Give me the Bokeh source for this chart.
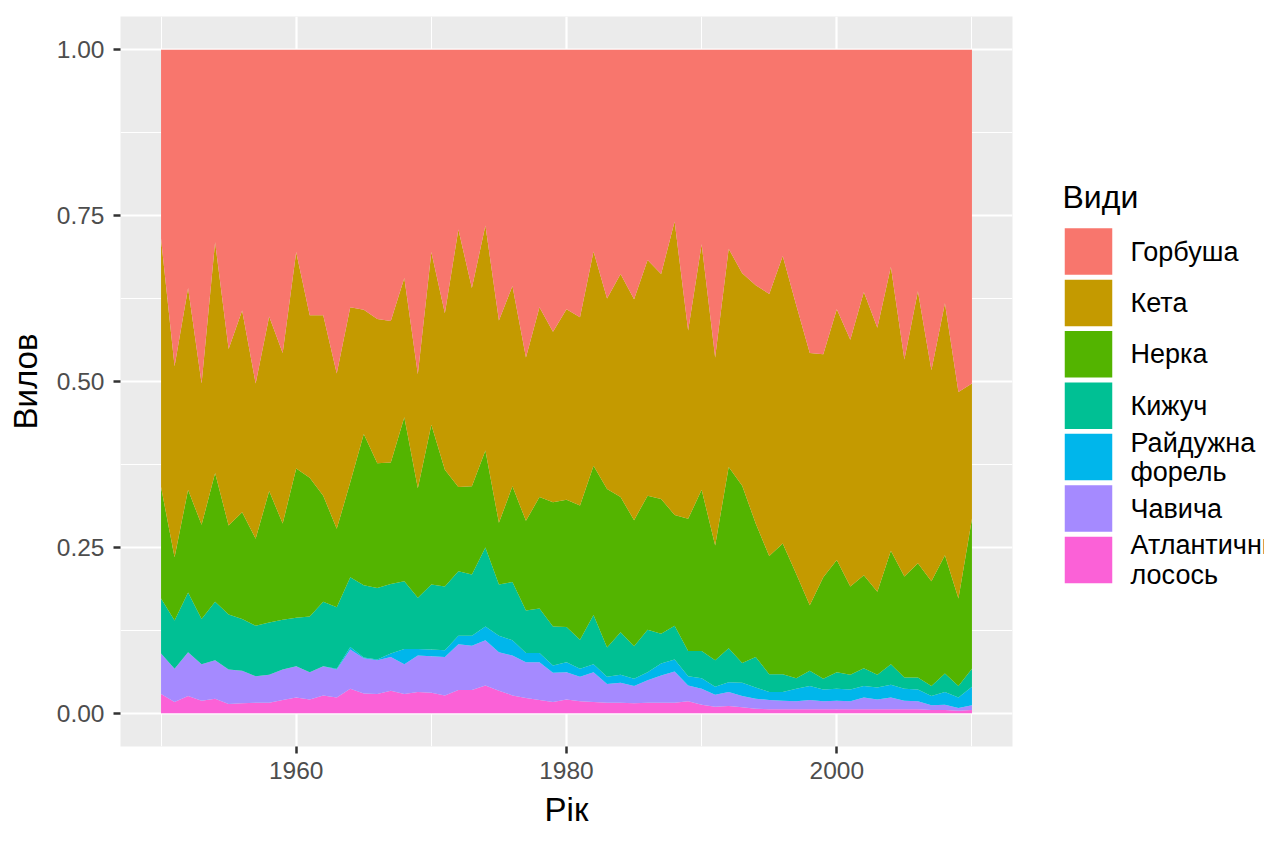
import numpy as np
from bokeh.plotting import figure
from bokeh.layouts import row
from bokeh.models import ColumnDataSource, FixedTicker, Range1d
from bokeh.core.properties import value
from bokeh.embed import file_html
from bokeh.resources import INLINE

years = list(range(1950, 2011))

# shares of catch per species (bottom of stack first)
atlantic = [.029,.017,.026,.019,.022,.014,.015,.016,.016,.020,.024,.021,.027,.024,.037,.030,.029,.034,.029,.032,.031,
            .027,.035,.035,.042,.034,.027,.023,.020,.017,.021,.018,.017,.016,.016,.015,.016,.016,.016,.018,.013,
            .010,.011,.009,.007,.006,.006,.006,.006,.006,.006,.006,.006,.006,.006,.006,.006,.005,.005,.004,.005]
chinook = [.061,.050,.066,.055,.058,.052,.049,.040,.042,.046,.047,.041,.044,.042,.059,.053,.051,.051,.045,.055,.055,
           .058,.069,.067,.068,.058,.060,.054,.057,.044,.041,.037,.045,.028,.030,.026,.034,.041,.047,.024,.024,
           .018,.021,.017,.015,.014,.013,.012,.014,.012,.013,.012,.018,.015,.018,.013,.012,.007,.008,.004,.007]
rainbow = [0,0,0,0,0,0,0,0,0,0,0,0,0,.001,.004,.001,.001,.005,.023,.010,.010,
           .010,.013,.015,.021,.025,.023,.014,.014,.011,.015,.012,.012,.011,.012,.011,.012,.018,.018,.014,.016,
           .012,.015,.020,.017,.012,.013,.019,.021,.018,.018,.018,.017,.018,.019,.018,.018,.014,.019,.016,.028]
coho = [.083,.073,.090,.068,.088,.083,.078,.076,.079,.075,.073,.084,.097,.093,.105,.109,.108,.105,.102,.077,.098,
        .096,.097,.092,.119,.077,.088,.064,.067,.059,.053,.044,.074,.044,.064,.049,.064,.045,.051,.038,.041,
        .040,.051,.030,.046,.027,.027,.016,.023,.016,.025,.022,.027,.019,.031,.017,.018,.015,.028,.017,.027]
sockeye = [.168,.095,.155,.142,.194,.134,.161,.131,.198,.145,.225,.209,.160,.118,.143,.228,.188,.183,.247,.165,.241,
           .176,.127,.133,.146,.093,.144,.135,.168,.187,.192,.202,.225,.239,.204,.190,.202,.203,.167,.199,.243,
           .173,.273,.267,.201,.178,.197,.157,.099,.153,.169,.133,.140,.125,.171,.152,.172,.158,.178,.132,.226]
chum = [.374,.288,.304,.213,.348,.266,.304,.234,.263,.257,.326,.245,.272,.234,.264,.187,.217,.213,.210,.172,.260,
        .236,.388,.299,.339,.305,.302,.246,.286,.257,.287,.284,.323,.287,.336,.333,.355,.339,.442,.284,.370,
        .283,.329,.320,.359,.395,.433,.405,.380,.336,.378,.372,.427,.398,.428,.327,.410,.318,.380,.311,.204]
pink = [.285,.477,.359,.503,.290,.451,.393,.503,.402,.457,.305,.400,.400,.488,.388,.392,.406,.409,.344,.489,.305,
        .397,.271,.359,.265,.408,.356,.464,.388,.425,.391,.403,.304,.375,.338,.376,.317,.338,.259,.423,.293,
        .464,.300,.337,.355,.368,.311,.385,.457,.459,.391,.437,.365,.419,.327,.467,.364,.483,.382,.516,.503]

species = ["Горбуша", "Кета", "Нерка", "Кижуч", "Райдужна форель", "Чавича", "Атлантичний лосось"]
colors = ["#F8766D", "#C49A00", "#53B400", "#00C094", "#00B6EB", "#A58AFF", "#FB61D7"]
series = [pink, chum, sockeye, coho, rainbow, chinook, atlantic]  # legend order

x_ticks = [1960, 1980, 2000]
x_minor = [1950, 1970, 1990, 2010]
y_ticks = [0, 0.25, 0.5, 0.75, 1.0]
y_tick_labels = ["0.00", "0.25", "0.50", "0.75", "1.00"]
y_minor = [0.125, 0.375, 0.625, 0.875]

FONT = "Liberation Sans"
MAIN_W = 1028
H = 835
TOP, BOTTOM = 16, 89

p = figure(width=MAIN_W, height=H, output_backend="svg", toolbar_location=None,
           x_range=Range1d(1947, 2013), y_range=Range1d(-0.05, 1.05),
           min_border_left=120, min_border_right=16, min_border_top=TOP, min_border_bottom=BOTTOM)
p.background_fill_color = "#EBEBEB"
p.border_fill_color = "white"
p.outline_line_color = None

# stack bottom-up and normalise (position = fill)
stack_order = list(reversed(series))
stack_cols = list(reversed(colors))
arr = np.array(stack_order, dtype=float)
tot = arr.sum(axis=0)
arr = arr / tot
cum = np.vstack([np.zeros(len(years)), np.cumsum(arr, axis=0)])
for i, col in enumerate(stack_cols):
    src = ColumnDataSource(dict(x=years, y1=cum[i], y2=cum[i + 1]))
    p.varea(x="x", y1="y1", y2="y2", source=src, fill_color=col, fill_alpha=1.0)

p.xaxis.ticker = FixedTicker(ticks=x_ticks, minor_ticks=x_minor)
p.yaxis.ticker = FixedTicker(ticks=y_ticks, minor_ticks=y_minor)
p.yaxis.major_label_overrides = {t: l for t, l in zip(y_ticks, y_tick_labels)}
for g in (p.xgrid, p.ygrid):
    g.grid_line_color = "white"
    g.grid_line_width = 2.2
    g.minor_grid_line_color = "white"
    g.minor_grid_line_width = 1.1

for ax in (p.xaxis, p.yaxis):
    ax.axis_line_color = None
    ax.major_tick_in = 0
    ax.major_tick_out = 7
    ax.major_tick_line_color = "#333333"
    ax.major_tick_line_width = 2.5
    ax.minor_tick_line_color = None
    ax.major_label_text_font = FONT
    ax.major_label_text_font_size = "24.5px"
    ax.major_label_text_color = "#4D4D4D"
    ax.axis_label_text_font = FONT
    ax.axis_label_text_font_size = "33px"
    ax.axis_label_text_font_style = "normal"
    ax.axis_label_text_color = "black"
p.xaxis.axis_label = "Рік"
p.yaxis.axis_label = "Вилов"
p.xaxis.major_label_standoff = 8
p.yaxis.major_label_standoff = 9
p.xaxis.axis_label_standoff = 9
p.yaxis.axis_label_standoff = 10

# legend panel: its frame is aligned with the main frame (rows align frames),
# so the y range spans the frame's page pixels, y downward
LW = 1264 - MAIN_W
leg = figure(width=LW, height=H, output_backend="svg", toolbar_location=None,
             x_range=Range1d(MAIN_W, MAIN_W + LW), y_range=Range1d(H - BOTTOM, TOP),
             x_axis_type=None, y_axis_type=None, min_border=0,
             min_border_top=TOP, min_border_bottom=BOTTOM)
leg.outline_line_color = None
leg.grid.visible = False
leg.background_fill_color = "white"
leg.border_fill_color = "white"

leg.text(x=[1062], y=[196], text=["Види"], text_font=value(FONT), text_font_size="32px",
         text_baseline="middle", text_align="left", text_color="black")
key_y = [251 + 51.4 * i for i in range(len(species))]
leg.rect(x=[1088] * len(species), y=key_y, width=47.5, height=46.5,
         fill_color=colors, line_color=None)
tx, ty, tt = [], [], []
for name, yc in zip(species, key_y):
    parts = name.split(" ")
    if len(parts) == 1:
        tx.append(1130); ty.append(yc); tt.append(name)
    else:
        tx += [1130, 1130]; ty += [yc - 14.5, yc + 15]; tt += parts
leg.text(x=tx, y=ty, text=tt, text_font=value(FONT), text_font_size="27px",
         text_baseline="middle", text_align="left", text_color="black")

layout = row(p, leg)
open("out.html", "w").write(file_html(layout, INLINE))
